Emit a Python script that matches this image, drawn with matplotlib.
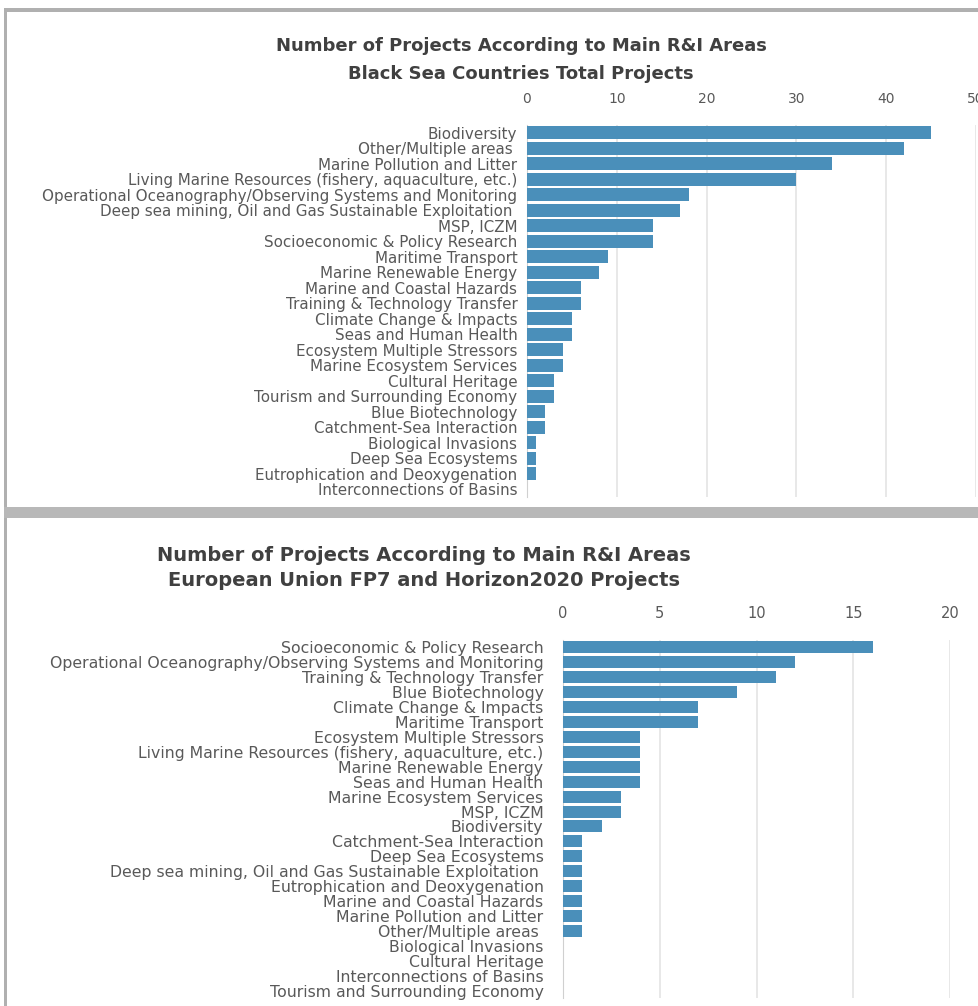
import matplotlib
matplotlib.use("Agg")
import matplotlib.pyplot as plt
from matplotlib.patches import Rectangle

# ---------------- data ----------------
top_categories = [
    "Biodiversity",
    "Other/Multiple areas ",
    "Marine Pollution and Litter",
    "Living Marine Resources (fishery, aquaculture, etc.)",
    "Operational Oceanography/Observing Systems and Monitoring",
    "Deep sea mining, Oil and Gas Sustainable Exploitation ",
    "MSP, ICZM",
    "Socioeconomic & Policy Research",
    "Maritime Transport",
    "Marine Renewable Energy",
    "Marine and Coastal Hazards",
    "Training & Technology Transfer",
    "Climate Change & Impacts",
    "Seas and Human Health",
    "Ecosystem Multiple Stressors",
    "Marine Ecosystem Services",
    "Cultural Heritage",
    "Tourism and Surrounding Economy",
    "Blue Biotechnology",
    "Catchment-Sea Interaction",
    "Biological Invasions",
    "Deep Sea Ecosystems",
    "Eutrophication and Deoxygenation",
    "Interconnections of Basins",
]
top_values = [45, 42, 34, 30, 18, 17, 14, 14, 9, 8, 6, 6, 5, 5, 4, 4, 3, 3, 2, 2, 1, 1, 1, 0]
top_ticks = [0, 10, 20, 30, 40, 50]

bottom_categories = [
    "Socioeconomic & Policy Research",
    "Operational Oceanography/Observing Systems and Monitoring",
    "Training & Technology Transfer",
    "Blue Biotechnology",
    "Climate Change & Impacts",
    "Maritime Transport",
    "Ecosystem Multiple Stressors",
    "Living Marine Resources (fishery, aquaculture, etc.)",
    "Marine Renewable Energy",
    "Seas and Human Health",
    "Marine Ecosystem Services",
    "MSP, ICZM",
    "Biodiversity",
    "Catchment-Sea Interaction",
    "Deep Sea Ecosystems",
    "Deep sea mining, Oil and Gas Sustainable Exploitation ",
    "Eutrophication and Deoxygenation",
    "Marine and Coastal Hazards",
    "Marine Pollution and Litter",
    "Other/Multiple areas ",
    "Biological Invasions",
    "Cultural Heritage",
    "Interconnections of Basins",
    "Tourism and Surrounding Economy",
]
bottom_values = [16, 12, 11, 9, 7, 7, 4, 4, 4, 4, 3, 3, 2, 1, 1, 1, 1, 1, 1, 1, 0, 0, 0, 0]
bottom_ticks = [0, 5, 10, 15, 20]

top_title = "Number of Projects According to Main R&I Areas\nBlack Sea Countries Total Projects"
bottom_title = "Number of Projects According to Main R&I Areas\nEuropean Union FP7 and Horizon2020 Projects"

# ---------------- style ----------------
plt.rcParams['font.family'] = ['DejaVu Sans']
BAR = '#4a8fba'
TXT = '#595959'
TITLE = '#404040'
GRID = '#e4e4e4'

W, H = 979, 1006
fig = plt.figure(figsize=(W / 100, H / 100), dpi=100)
fig.patch.set_facecolor('white')


def px_axes(left, top, right, bottom):
    return fig.add_axes([left / W, 1 - bottom / H, (right - left) / W, (bottom - top) / H])


# panel frames
fig.patches.append(Rectangle((4 / W, 1 - 507 / H), 3 / W, 497 / H, transform=fig.transFigure,
                             facecolor='#b0b0b0', edgecolor='none', zorder=0))
fig.patches.append(Rectangle((4 / W, 1 - 12 / H), 975 / W, 4 / H, transform=fig.transFigure,
                             facecolor='#b0b0b0', edgecolor='none', zorder=0))
fig.patches.append(Rectangle((4 / W, 1 - 518 / H), 975 / W, 11 / H, transform=fig.transFigure,
                             facecolor='#b8b8b8', edgecolor='none', zorder=0))
fig.patches.append(Rectangle((4 / W, 0), 3 / W, 1 - 518 / H, transform=fig.transFigure,
                             facecolor='#b0b0b0', edgecolor='none', zorder=0))


def draw(ax, cats, vals, ticks, xmax, fs, tfs, ypad, bh):
    y = list(range(len(cats)))
    ax.barh(y, vals, height=bh, color=BAR, zorder=3)
    ax.set_ylim(len(cats) - 0.5, -0.5)
    ax.set_xlim(0, xmax)
    ax.set_yticks(y)
    ax.set_yticklabels(cats, fontsize=fs, color=TXT)
    ax.set_xticks(ticks)
    ax.set_xticklabels([str(t) for t in ticks], fontsize=tfs, color=TXT)
    ax.xaxis.tick_top()
    ax.tick_params(axis='x', length=0, pad=14)
    ax.tick_params(axis='y', length=0, pad=ypad)
    ax.grid(axis='x', color=GRID, linewidth=1.2, zorder=0)
    for s in ['top', 'right', 'bottom']:
        ax.spines[s].set_visible(False)
    ax.spines['left'].set_color('#d0d0d0')
    ax.set_facecolor('none')


ax1 = px_axes(527, 125, 976, 497)
draw(ax1, top_categories, top_values, top_ticks, 50, 10.9, 10, 7, 0.84)

ax2 = px_axes(563, 640, 950, 998)
draw(ax2, bottom_categories, bottom_values, bottom_ticks, 20, 11.3, 10.5, 14, 0.8)

fig.text(521 / W, 1 - 60 / H, top_title, ha='center', va='center', fontsize=13,
         fontweight='bold', color=TITLE, linespacing=1.7)
fig.text(424 / W, 1 - 568 / H, bottom_title, ha='center', va='center', fontsize=14,
         fontweight='bold', color=TITLE, linespacing=1.45)

fig.savefig('out.png', dpi=100, facecolor='white')
